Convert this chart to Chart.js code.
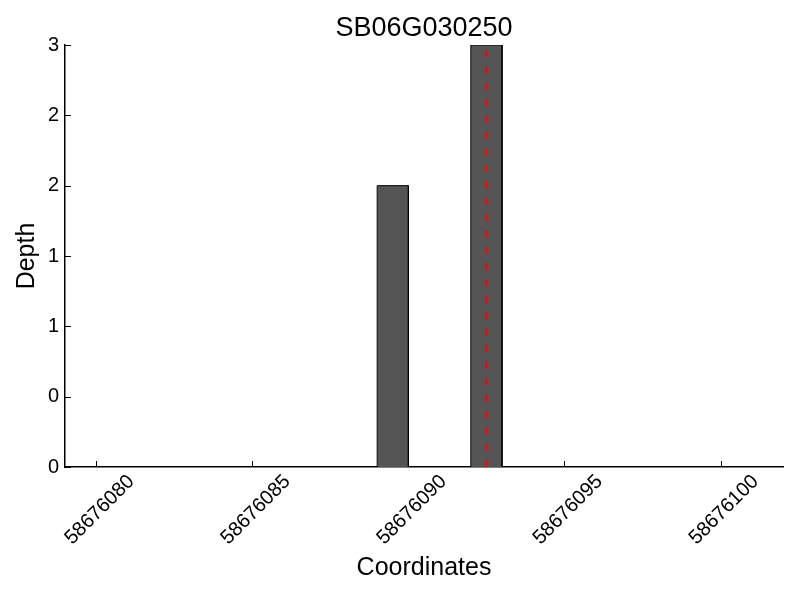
<!DOCTYPE html>
<html lang="en">
<head>
  <meta charset="UTF-8" />
  <title>SB06G030250</title>
  <script src="https://cdn.jsdelivr.net/npm/chart.js"></script>
  <style>
    html, body { margin: 0; padding: 0; background: #fff; }
    #wrap { width: 800px; height: 600px; }
  </style>
</head>
<body>
  <div id="wrap"><canvas id="depth"></canvas></div>

  <script>
    // Data
    const coords = [58676089, 58676092];   // bin start of each bar
    const depths = [2, 3];
    const markerPos = [58676092.5];        // red dashed marker
    const xRange = [58676079, 58676102];
    const xTicks = [58676080, 58676085, 58676090, 58676095, 58676100];
    const xTickLabels = ['58676080', '58676085', '58676090', '58676095', '58676100'];
    const yTicks = [0, 0.5, 1, 1.5, 2, 2.5, 3];
    const yTickLabels = ['0', '0', '1', '1', '2', '2', '3'];

    const FONT = "'Liberation Sans', Arial, sans-serif";

    // each bar as a filled outline: up, across, down
    const barSets = coords.map((c, i) => ({
      data: [
        { x: c, y: 0 }, { x: c, y: depths[i] },
        { x: c + 1, y: depths[i] }, { x: c + 1, y: 0 }
      ],
      showLine: true,
      fill: 'origin',
      backgroundColor: '#555555',
      borderColor: '#000000',
      borderWidth: 1,
      pointRadius: 0,
      tension: 0,
      order: 1
    }));

    const markerSets = markerPos.map(m => ({
      data: [{ x: m, y: yTicks[0] }, { x: m, y: yTicks[yTicks.length - 1] }],
      showLine: true,
      fill: false,
      borderColor: '#ff0000',
      borderWidth: 2,
      borderDash: [7.4, 9],
      pointRadius: 0,
      order: 0
    }));

    // matplotlib-style inward tick marks
    const innerTicks = {
      id: 'innerTicks',
      afterDatasetsDraw(chart) {
        const { ctx, chartArea, scales: { x, y } } = chart;
        ctx.save();
        ctx.strokeStyle = '#000';
        ctx.lineWidth = 1;
        ctx.beginPath();
        xTicks.forEach(v => {
          const px = Math.round(x.getPixelForValue(v)) + 0.5;
          ctx.moveTo(px, chartArea.bottom);
          ctx.lineTo(px, chartArea.bottom - 6);
        });
        yTicks.forEach(v => {
          const py = Math.round(y.getPixelForValue(v)) + 0.5;
          ctx.moveTo(chartArea.left, py);
          ctx.lineTo(chartArea.left + 6, py);
        });
        ctx.stroke();
        ctx.restore();
      }
    };

    new Chart(document.getElementById('depth'), {
      type: 'scatter',
      data: { datasets: [...markerSets, ...barSets] },
      options: {
        responsive: true,
        maintainAspectRatio: false,
        animation: false,
        layout: { padding: { left: 0, right: 17, top: 0, bottom: 0 } },
        plugins: {
          legend: { display: false },
          tooltip: { enabled: false },
          title: {
            display: true,
            text: 'SB06G030250',
            fullSize: false,
            color: '#000',
            font: { family: FONT, size: 27, weight: 'normal' },
            padding: { top: 12, bottom: 0.6 }
          }
        },
        scales: {
          x: {
            type: 'linear',
            min: xRange[0],
            max: xRange[1],
            afterBuildTicks: s => { s.ticks = xTicks.map(v => ({ value: v })); },
            afterFit: s => { s.height = 133; },
            grid: { display: false, drawTicks: false },
            border: { display: true, color: '#000', width: 1.5 },
            ticks: {
              autoSkip: false,
              minRotation: 45,
              maxRotation: 45,
              labelOffset: 35,
              padding: 3,
              color: '#000',
              font: { family: FONT, size: 20 },
              callback: (v, i) => xTickLabels[i]
            },
            title: {
              display: true,
              text: 'Coordinates',
              color: '#000',
              font: { family: FONT, size: 25 },
              padding: { top: 0, bottom: 17 }
            }
          },
          y: {
            min: yTicks[0],
            max: yTicks[yTicks.length - 1],
            afterBuildTicks: s => { s.ticks = yTicks.map(v => ({ value: v })); },
            afterFit: s => { s.width = 65; },
            grid: { display: false, drawTicks: false },
            border: { display: true, color: '#000', width: 1.5 },
            ticks: {
              padding: 6,
              color: '#000',
              font: { family: FONT, size: 20 },
              callback: (v, i) => yTickLabels[i]
            },
            title: {
              display: true,
              text: 'Depth',
              color: '#000',
              font: { family: FONT, size: 25 },
              padding: { top: 12, bottom: 0 }
            }
          }
        }
      },
      plugins: [innerTicks]
    });
  </script>
</body>
</html>
